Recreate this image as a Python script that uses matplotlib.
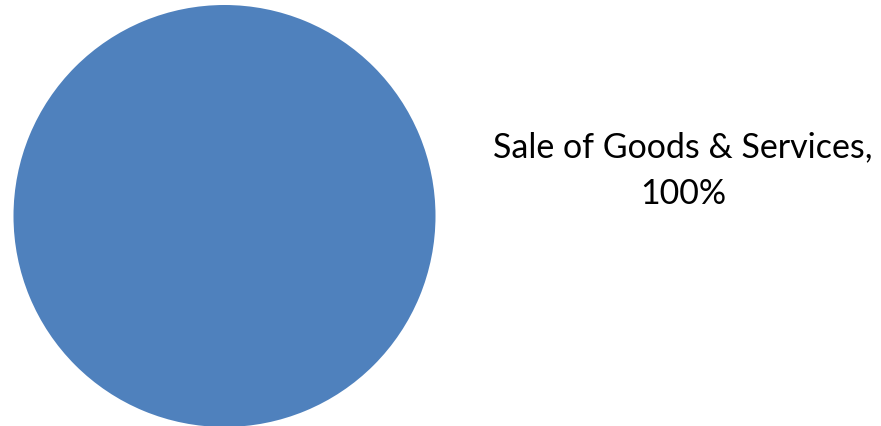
import matplotlib
matplotlib.use("Agg")
import matplotlib.pyplot as plt

categories = ["Sale of Goods & Services"]
shares = [100]
colors = ["#4F81BD"]

W, H = 881, 426
fig = plt.figure(figsize=(W / 100, H / 100), dpi=100)

# pie centre and radius in pixels
cx, cy, r = 224.5, 216, 211
ax = fig.add_axes([(cx - r) / W, (H - cy - r) / H, 2 * r / W, 2 * r / H])
ax.pie(shares, colors=colors, radius=1, startangle=90, counterclock=False,
       wedgeprops=dict(linewidth=0))
ax.set_xlim(-1, 1)
ax.set_ylim(-1, 1)
ax.set_aspect("equal")
ax.axis("off")

label = f"{categories[0]},\n{shares[0]}%"
fig.text(683 / W, 1 - 171 / H, label, ha="center", va="center",
         fontsize=24.5, family=["Lato", "DejaVu Sans"], linespacing=1.57,
         color="black")

fig.savefig("out.png", dpi=100)
